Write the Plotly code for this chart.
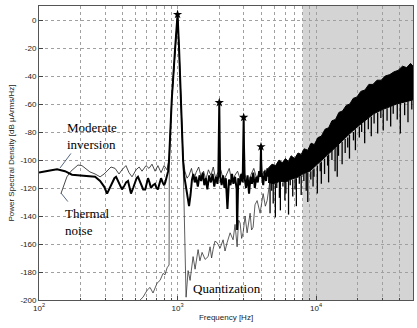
import plotly.graph_objects as go

# ---------------- data ----------------
# Moderate inversion (thick line), 100 Hz .. 4.55 kHz
mi_f = [100, 110, 120, 135, 154, 173, 195, 215, 235, 254, 276, 295, 310, 325, 336, 350, 360, 372,
        384, 397, 410, 425, 439, 450, 461, 478, 494, 506, 518, 532, 545, 565, 584, 598, 612, 627,
        643, 665, 688, 705, 721, 740, 760, 780, 800, 815, 827, 840, 855, 868, 908, 959, 1000, 1026,
        1055, 1096, 1120, 1150, 1180, 1210, 1240, 1270, 1300, 1330, 1360, 1400, 1440, 1480, 1520,
        1560, 1600, 1640, 1690, 1740, 1790, 1840, 1890, 1940, 1970, 1990, 2000, 2010, 2030, 2080,
        2130, 2180, 2230, 2290, 2350, 2410, 2470, 2530, 2600, 2670, 2690, 2740, 2810, 2880, 2950,
        2985, 3000, 3015, 3050, 3120, 3200, 3280, 3360, 3440, 3520, 3610, 3700, 3790, 3880, 3960,
        3990, 4000, 4010, 4050, 4150, 4250, 4350, 4450, 4550]
mi_db = [-109, -108, -107.5, -106.6, -108, -110.5, -111, -111, -111.5, -112, -115, -119, -124, -120,
         -117, -113, -112, -115, -118, -121, -119, -116, -115, -119, -124, -120, -116, -113, -112,
         -115, -118, -121, -121, -117, -113, -116, -120, -118, -117, -120, -121, -117, -113, -116,
         -118, -116, -113, -110, -108, -100, -57, -21, 4, -21, -57, -100, -112, -120, -128, -133,
         -125, -114, -110, -116, -112, -119, -111, -115, -109, -118, -113, -121, -111, -116, -110,
         -119, -112, -117, -110, -80, -59, -80, -112, -118, -111, -120, -113, -135, -114, -118,
         -110, -117, -112, -121, -150, -113, -118, -110, -116, -90, -69.5, -90, -113, -120, -111,
         -124, -112, -117, -109, -120, -112, -116, -108, -112, -100, -90.5, -100, -110, -118, -108,
         -115, -106, -112]

# Thermal noise (thin line)
tn_f = [144, 152, 159, 170, 182, 191, 204, 218, 233, 254, 276, 295, 310, 331, 354, 378, 397, 424,
        446, 469, 502, 528, 554, 592, 622, 654, 688, 721, 760, 800, 838, 868, 908, 959, 1000, 1026,
        1055, 1096, 1130, 1170, 1210, 1260, 1310, 1360, 1420, 1480, 1540, 1600, 1670, 1740, 1810,
        1880, 1950, 2050, 2150, 2250, 2360, 2470, 2590, 2710, 2840, 2970, 3100, 3250, 3400, 3550,
        3720, 3900, 4080, 4270, 4470]
tn_db = [-124, -118, -112, -108, -105, -103.6, -104, -106, -108.5, -110, -112, -110, -108, -105,
         -106, -110, -107, -104, -109, -112, -107, -105, -108, -104, -106, -103, -108, -104, -109,
         -104, -107, -100, -57, -21, 3, -21, -57, -100, -108, -113, -111, -106, -114, -109, -105,
         -112, -108, -114, -107, -111, -105, -113, -109, -107, -115, -110, -106, -116, -111, -108,
         -114, -107, -112, -118, -110, -106, -113, -109, -111, -107, -110]

# Quantization (thin line)
q_f = [536, 563, 603, 633, 665, 711, 747, 786, 812, 840, 868, 872, 908, 959, 1000, 1026, 1055,
       1096, 1152, 1191, 1231, 1294, 1338, 1406, 1450, 1503, 1580, 1661, 1716, 1760, 1804, 1860,
       1928, 2027, 2131, 2200, 2278, 2394, 2516, 2600, 2690, 2760, 2827, 2900, 2972, 3070, 3176,
       3338, 3420, 3509, 3620, 3750, 3942, 4143, 4300, 4429, 4655]
q_db = [-200, -198, -193, -191, -195, -188, -186, -181, -182, -177, -175, -100, -57, -21, 4, -21,
        -57, -100, -198, -179, -186, -169, -178, -164, -172, -166, -171, -169, -162, -170, -164,
        -158, -159, -163, -157, -165, -159, -152, -157, -146, -162, -143, -145, -156, -152, -140,
        -152, -138, -150, -148, -132, -129, -138, -124, -133, -129, -114]

# High-frequency noise band: jagged upper edge, lower edge, and downward spikes
top_f = [4500, 4800, 5100, 5400, 5700, 6000, 6300, 6600, 7000, 7400, 7800, 8200, 8700, 9200, 9700,
         10300, 10900, 11600, 12300, 13000, 13800, 14600, 15500, 16500, 17500, 18500, 19700,
         21000, 22500, 24000, 25700, 27500, 29500, 31500, 34000, 36500, 39000, 42000, 45000,
         48000, 50000]
top_db = [-106, -103, -104, -100, -102, -99, -101, -97, -99, -95, -96, -92, -93, -88, -89, -84,
          -83, -78, -77, -72, -71, -66, -65, -61, -60, -56, -55, -51, -50, -46, -46, -43, -43, -40,
          -39, -37, -36, -33, -34, -31, -33]
bot_f = [50000, 46000, 42000, 38000, 34000, 30000, 26000, 23000, 20000, 18000, 16000, 14000,
         12500, 11000, 10000, 9000, 8000, 7500, 7000, 6500, 6000, 5500, 5000, 4500]
bot_db = [-57, -58, -59, -60, -62, -64, -67, -71, -76, -80, -85, -90, -95, -100, -104, -108, -110,
          -112, -113, -114, -116, -115, -117, -116]
spk_f = [4650, 4780, 4900, 5080, 5200, 5430, 5520, 5760, 5950, 6050, 6320, 6500, 6780, 7050, 7200,
         7560, 7800, 8150, 8480, 8700, 9150, 9500, 9650, 10200, 10700, 10900, 11500, 12100, 12300,
         13000, 13700, 14200, 14500, 15400, 16200, 16900, 17400, 18600, 19200, 20500, 21300,
         22400, 23800, 25000, 26200, 27800, 29300, 30500, 32500, 34500, 36000, 38500, 40500,
         43500, 46000, 49000]
spk_from = [-114, -115, -116, -117, -116, -115, -115, -116, -116, -116, -115, -114, -114, -113,
            -113, -112, -111, -110, -109, -109, -108, -107, -106, -104, -102, -101, -99, -97, -96,
            -93, -91, -90, -89, -87, -85, -84, -82, -80, -78, -76, -74, -72, -70, -69, -67, -66,
            -64, -64, -63, -62, -61, -60, -59, -59, -58, -57]
spk_to = [-138, -122, -131, -141, -120, -127, -136, -119, -129, -124, -139, -118, -126, -121, -133,
          -117, -125, -115, -122, -130, -114, -119, -112, -124, -108, -117, -110, -104, -116, -100,
          -108, -112, -97, -103, -95, -91, -99, -86, -93, -84, -80, -88, -78, -83, -74, -81, -70,
          -79, -72, -76, -67, -71, -81, -68, -73, -64]

# Harmonic peaks (stars)
pk_f = [1000, 2000, 3000, 4000]
pk_db = [4, -59, -69.5, -90.5]

# Axis ticks
x_ticks = [100, 1000, 10000]
x_ticktext = ["10<sup>2</sup>", "10<sup>3</sup>", "10<sup>4</sup>"]
x_minor = [m * d for d in (100, 1000, 10000) for m in range(2, 10) if m * d <= 50000]
y_ticks = list(range(-200, 1, 20))
y_ticktext = [str(v) if v >= 0 else "-" + str(-v) for v in y_ticks]
shade_range = [8000, 50000]

# ---------------- figure ----------------
fig = go.Figure()
thin = dict(color="#1a1a1a", width=0.8)

fig.add_trace(go.Scatter(x=q_f, y=q_db, mode="lines", line=dict(color="#333333", width=0.8),
                         hoverinfo="skip"))
fig.add_trace(go.Scatter(x=tn_f, y=tn_db, mode="lines", line=thin, hoverinfo="skip"))
fig.add_trace(go.Scatter(x=mi_f, y=mi_db, mode="lines", line=dict(color="black", width=2),
                         hoverinfo="skip"))
fig.add_trace(go.Scatter(x=top_f + bot_f, y=top_db + bot_db, mode="lines",
                         line=dict(color="black", width=1), fill="toself", fillcolor="black",
                         hoverinfo="skip"))
sx, sy = [], []
for f, a, b in zip(spk_f, spk_from, spk_to):
    sx += [f, f, None]
    sy += [a, b, None]
fig.add_trace(go.Scatter(x=sx, y=sy, mode="lines", line=dict(color="black", width=1.3),
                         hoverinfo="skip"))
fig.add_trace(go.Scatter(x=pk_f, y=pk_db, mode="markers",
                         marker=dict(symbol="star", size=7, color="black"), hoverinfo="skip"))

fig.add_shape(type="rect", xref="x", yref="paper", x0=shade_range[0], x1=shade_range[1],
              y0=0, y1=1, fillcolor="#d4d4d4", line=dict(width=0), layer="below")

serif = dict(family="Liberation Serif, Times New Roman, serif", size=13, color="black")
fig.add_annotation(x=2.188, y=-70, xref="x", yref="y", text="Moderate<br>inversion",
                   showarrow=False, font=serif, align="left", xanchor="left", yanchor="top")
fig.add_annotation(x=2.152, y=-105.7, xref="x", yref="y", text="", showarrow=True,
                   arrowhead=0, arrowwidth=0.8, ax=12, ay=-16)
fig.add_annotation(x=2.173, y=-131.4, xref="x", yref="y", text="Thermal<br>noise",
                   showarrow=False, font=serif, align="left", xanchor="left", yanchor="top")
fig.add_annotation(x=2.159, y=-123.6, xref="x", yref="y", text="", showarrow=True,
                   arrowhead=0, arrowwidth=0.8, ax=8, ay=10)
fig.add_annotation(x=3.357, y=-192, xref="x", yref="y", text="Quantization",
                   showarrow=False, font=serif)

tickfont = dict(family="Liberation Sans, Arial, sans-serif", size=8, color="#222")
fig.update_xaxes(type="log", range=[2, 4.699], tickvals=x_ticks, ticktext=x_ticktext,
                 tickfont=tickfont, showgrid=True, gridcolor="#a0a0a0", griddash="dot",
                 gridwidth=1, ticks="inside", ticklen=4, tickcolor="#444",
                 minor=dict(tickvals=x_minor, showgrid=True, gridcolor="#a0a0a0",
                            griddash="dot", ticks="inside", ticklen=2, tickcolor="#444"),
                 showline=True, linecolor="#555", linewidth=1, mirror=True, zeroline=False,
                 title=dict(text="Frequency [Hz]", font=tickfont, standoff=2))
fig.update_yaxes(range=[-200, 10], tickvals=y_ticks, ticktext=y_ticktext, tickfont=tickfont,
                 showgrid=True, gridcolor="#a0a0a0", griddash="dot", gridwidth=1,
                 ticks="inside", ticklen=4, tickcolor="#444",
                 showline=True, linecolor="#555", linewidth=1, mirror=True, zeroline=False,
                 title=dict(text="Power Spectral Density [dB µArms/Hz]", font=tickfont, standoff=4))
fig.update_layout(width=417, height=328, margin=dict(l=39, r=4, t=6, b=28),
                  plot_bgcolor="white", paper_bgcolor="white", showlegend=False)

fig.write_html("out.html")
